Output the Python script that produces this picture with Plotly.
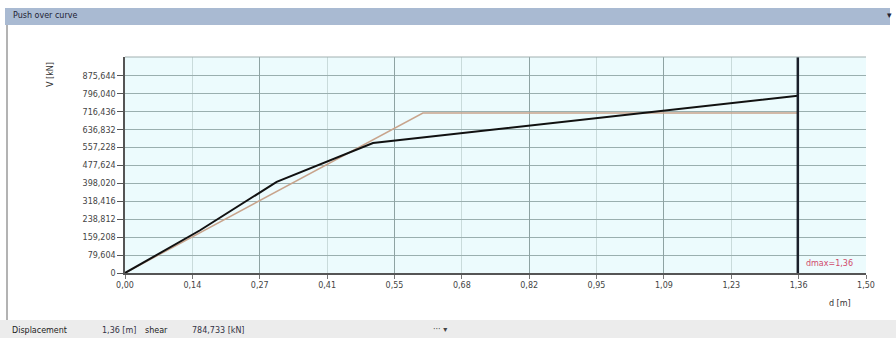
import plotly.graph_objects as go

# ---- data ----
pushover_d = [0.0, 0.152, 0.307, 0.502, 1.362]
pushover_v = [0.0, 190.0, 405.0, 578.0, 788.0]
bilinear_d = [0.0, 0.603, 1.362]
bilinear_v = [0.0, 711.0, 711.0]
d_max = 1.362
x_ticks = [0.0, 0.1364, 0.2727, 0.4091, 0.5455, 0.6818, 0.8182, 0.9545, 1.0909, 1.2273, 1.3636, 1.5]
x_labels = ["0,00", "0,14", "0,27", "0,41", "0,55", "0,68", "0,82", "0,95", "1,09", "1,23", "1,36", "1,50"]
x_major = [0.2727, 0.5455, 0.8182, 1.0909, 1.3636]
y_ticks = [0, 79.604, 159.208, 238.812, 318.416, 398.02, 477.624, 557.228, 636.832, 716.436, 796.04, 875.644]
y_labels = ["0", "79,604", "159,208", "238,812", "318,416", "398,020", "477,624",
            "557,228", "636,832", "716,436", "796,040", "875,644"]
status_disp = "1,36 [m]"
status_shear = "784,733 [kN]"
dmax_label = "dmax=1,36"

font = "DejaVu Sans"
fig = go.Figure()

fig.add_trace(go.Scatter(x=bilinear_d, y=bilinear_v, mode="lines",
                         line=dict(color="#c8a48c", width=1.5), hoverinfo="skip"))
fig.add_trace(go.Scatter(x=pushover_d, y=pushover_v, mode="lines",
                         line=dict(color="#111111", width=2), hoverinfo="skip"))
fig.add_trace(go.Scatter(x=[d_max, d_max], y=[0, 960], mode="lines",
                         line=dict(color="#1a1f2a", width=2.5), hoverinfo="skip"))
# invisible trace for overlay axis (major vertical grid)
fig.add_trace(go.Scatter(x=[0, 1.5], y=[0, 0], xaxis="x2", mode="markers",
                         marker=dict(opacity=0), hoverinfo="skip"))

fig.update_layout(
    width=896, height=338,
    margin=dict(l=125, r=30, t=57, b=65),
    paper_bgcolor="white",
    plot_bgcolor="#ecfbfd",
    showlegend=False,
    xaxis=dict(range=[0, 1.5], tickmode="array", tickvals=x_ticks, ticktext=x_labels,
               showgrid=True, gridcolor="#c9dbdb", gridwidth=1,
               showline=True, linecolor="#555", linewidth=1.5,
               ticks="outside", ticklen=4, tickcolor="#777",
               tickfont=dict(family=font, size=8, color="#444"), zeroline=False),
    xaxis2=dict(range=[0, 1.5], overlaying="x", tickmode="array", tickvals=x_major,
                showticklabels=False, showgrid=True, gridcolor="#8ea3a3", gridwidth=1,
                zeroline=False, showline=False),
    yaxis=dict(range=[0, 960], tickmode="array", tickvals=y_ticks, ticktext=y_labels,
               showgrid=True, gridcolor="#9aafaf", gridwidth=1,
               showline=True, linecolor="#555", linewidth=1.5,
               ticks="outside", ticklen=6, tickcolor="#555",
               tickfont=dict(family=font, size=8, color="#444"), zeroline=False),
)

shapes = [
    # title bar
    dict(type="rect", xref="paper", yref="paper", x0=-120/741, x1=(890-125)/741,
         y0=(273-25)/216, y1=(273-8)/216, fillcolor="#a9bad2", line=dict(width=0), layer="below"),
    # status bar
    dict(type="rect", xref="paper", yref="paper", x0=-125/741, x1=(896-125)/741,
         y0=(273-338)/216, y1=(273-320)/216, fillcolor="#ececec", line=dict(width=0), layer="below"),
    # left window border
    dict(type="line", xref="paper", yref="paper", x0=-118/741, x1=-118/741,
         y0=(273-320)/216, y1=(273-25)/216, line=dict(color="#9a9a9a", width=1.5)),
    # top plot border
    dict(type="line", xref="paper", yref="paper", x0=0, x1=1, y0=1, y1=1,
         line=dict(color="#a0b0b0", width=1)),
]
fig.update_layout(shapes=shapes)

ann = [
    dict(text="Push over curve", xref="paper", yref="paper", x=-114/741, y=(273-16)/216,
         xanchor="left", yanchor="middle", showarrow=False, font=dict(family=font, size=8, color="#223")),
    dict(text="▾", xref="paper", yref="paper", x=(889-125)/741, y=(273-15)/216,
         xanchor="center", yanchor="middle", showarrow=False, font=dict(family=font, size=9, color="#223")),
    dict(text="V [kN]", xref="paper", yref="paper", x=-75/741, y=(273-75)/216, textangle=-90,
         xanchor="center", yanchor="middle", showarrow=False, font=dict(family=font, size=8, color="#333")),
    dict(text="d [m]", xref="paper", yref="paper", x=(840-125)/741, y=(273-303)/216,
         xanchor="center", yanchor="middle", showarrow=False, font=dict(family=font, size=8, color="#333")),
    dict(text=dmax_label, x=d_max, y=0, xref="x", yref="y", xanchor="left", yanchor="bottom",
         xshift=6, yshift=3, showarrow=False, font=dict(family=font, size=8, color="#d04a6a")),
    dict(text="Displacement", xref="paper", yref="paper", x=-115/741, y=(273-330)/216,
         xanchor="left", yanchor="middle", showarrow=False, font=dict(family=font, size=8, color="#222")),
    dict(text=status_disp, xref="paper", yref="paper", x=-25/741, y=(273-330)/216,
         xanchor="left", yanchor="middle", showarrow=False, font=dict(family=font, size=8, color="#334")),
    dict(text="shear", xref="paper", yref="paper", x=18/741, y=(273-330)/216,
         xanchor="left", yanchor="middle", showarrow=False, font=dict(family=font, size=8, color="#222")),
    dict(text=status_shear, xref="paper", yref="paper", x=65/741, y=(273-330)/216,
         xanchor="left", yanchor="middle", showarrow=False, font=dict(family=font, size=8, color="#334")),
    dict(text="··· ▾", xref="paper", yref="paper", x=(440-125)/741, y=(273-329)/216,
         xanchor="center", yanchor="middle", showarrow=False, font=dict(family=font, size=8, color="#444")),
]
fig.update_layout(annotations=ann)

fig.write_html("out.html", config={"displayModeBar": False},
               post_script="document.body.style.margin='0';document.body.style.overflow='hidden';")
